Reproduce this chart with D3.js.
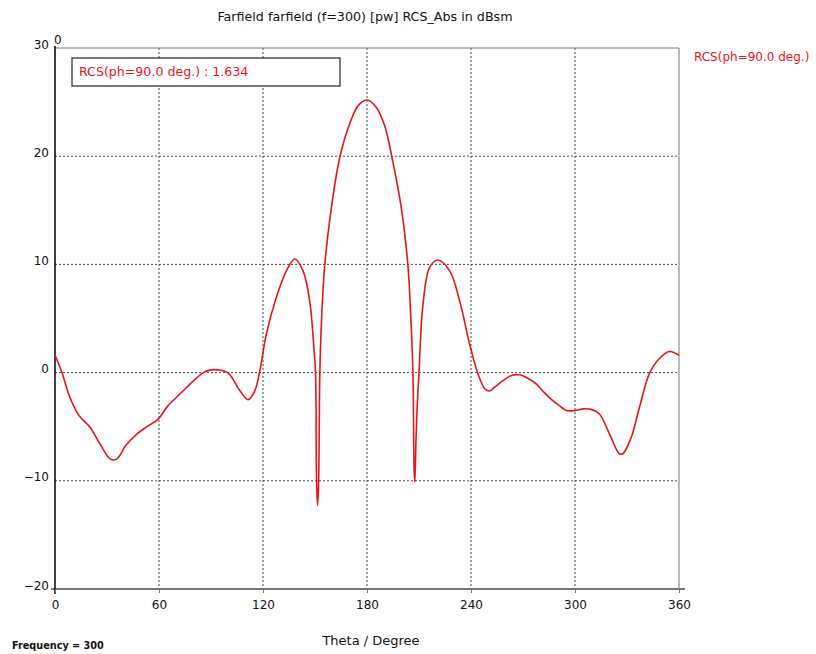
<!DOCTYPE html>
<html>
<head>
<meta charset="utf-8">
<script src="https://cdn.jsdelivr.net/npm/d3@7"></script>
<style>
  html, body { margin: 0; padding: 0; background: #fff; }
  svg { display: block; }
  text { font-family: "DejaVu Sans", Verdana, sans-serif; }
</style>
</head>
<body>
<svg id="chart" width="816" height="654"></svg>
<script>
// ---- data ----
const titleText = "Farfield farfield (f=300) [pw] RCS_Abs in dBsm";
const xLabel = "Theta / Degree";
const footerText = "Frequency = 300";
const seriesName = "RCS(ph=90.0 deg.)";
const markerText = "RCS(ph=90.0 deg.) : 1.634";
const xTicks = [0, 60, 120, 180, 240, 300, 360];
const yTicks = [-20, -10, 0, 10, 20, 30];
const theta = [
  0, 4, 8.6, 14, 20, 26, 32, 35.5, 41, 47, 53, 59.5, 65, 70, 76, 81, 85.5, 90, 94, 100,
  106.6, 111.4, 115.3, 118.2, 122, 127.8, 133.5, 138.3, 143.1, 146.9, 149.5, 150.3, 150.9, 151.5,
  152.1, 152.8, 153.8, 155.6, 159.5, 164.3, 170, 175, 180, 185, 190, 195, 200, 203.6, 205.3,
  206.5, 207.2, 207.6, 208.3, 209, 210, 212.3, 216.1, 220.9, 227.7, 233.4, 239.2, 244, 248,
  250.7, 254, 258.4, 263, 268, 272, 277.6, 282, 287.2, 291, 295, 300, 305, 309.3, 314, 320,
  325.6, 327.6, 332.4, 337.2, 342.9, 348.7, 354.5, 360
];
const rcs = [
  1.63, 0, -2.3, -4.0, -5.0, -6.6, -8.0, -8.0, -6.7, -5.7, -5.0, -4.3, -3.1, -2.3, -1.35, -0.6, 0.0, 0.25, 0.25, -0.05,
  -1.66, -2.5, -1.66, 0.2, 3.6, 7.0, 9.4, 10.5, 9.4, 6.65, 2.0, 0, -10, -12.3,
  -10, 0, 5, 9.9, 15.3, 19.9, 23, 24.7, 25.2, 24.6, 22.9, 19.4, 15.0, 9.9, 5.0,
  0, -9, -10.1, -6, -3, 0, 6.3, 9.7, 10.4, 9.4, 6.65, 2.65, -0.1, -1.5,
  -1.7, -1.3, -0.75, -0.3, -0.2, -0.45, -1.05, -1.8, -2.6, -3.05, -3.5, -3.5, -3.35, -3.4, -3.8, -5.7,
  -7.5, -7.5, -6.0, -3.2, -0.1, 1.3, 1.95, 1.6
];

// ---- layout ----
const svg = d3.select("#chart");
const pL = 55, pR = 679, pT = 48, pB = 589;
const x = d3.scaleLinear().domain([0, 360]).range([pL, pR]);
const y = d3.scaleLinear().domain([-20, 30]).range([pB, pT]);
const red = "#e8141c";

// grid
const grid = svg.append("g");
grid.selectAll("line.vx").data(xTicks.filter(t => t > 0 && t < 360)).join("line")
  .attr("x1", d => x(d)).attr("x2", d => x(d)).attr("y1", pT).attr("y2", pB)
  .attr("stroke", "#444").attr("stroke-width", 1).attr("stroke-dasharray", "2,2");
grid.selectAll("line.hy").data(yTicks.filter(t => t > -20 && t < 30)).join("line")
  .attr("x1", pL).attr("x2", pR).attr("y1", d => y(d)).attr("y2", d => y(d))
  .attr("stroke", "#444").attr("stroke-width", 1).attr("stroke-dasharray", "2,2");

// frame
svg.append("line").attr("x1", pL).attr("x2", pR).attr("y1", pT).attr("y2", pT)
  .attr("stroke", "#777").attr("stroke-width", 1);
svg.append("line").attr("x1", pR).attr("x2", pR).attr("y1", pT).attr("y2", pB)
  .attr("stroke", "#777").attr("stroke-width", 1);
svg.append("line").attr("x1", pL - 4).attr("x2", pR + 6).attr("y1", pB).attr("y2", pB)
  .attr("stroke", "#777").attr("stroke-width", 2);
svg.append("line").attr("x1", pL).attr("x2", pL).attr("y1", pT - 2).attr("y2", pB + 5)
  .attr("stroke", "#000").attr("stroke-width", 1.5);

// axes ticks
const xAxis = d3.axisBottom(x).tickValues(xTicks).tickSize(4).tickFormat(d3.format("d"));
const gx = svg.append("g").attr("transform", `translate(0,${pB})`).call(xAxis);
gx.select(".domain").remove();
gx.selectAll(".tick line").attr("stroke", "#777");
gx.selectAll(".tick text").attr("font-size", 12).attr("fill", "#111").attr("dy", "1.05em")
  .attr("font-family", "DejaVu Sans, sans-serif");

const yAxis = d3.axisLeft(y).tickValues(yTicks).tickSize(0).tickPadding(6).tickFormat(d3.format("d"));
const gy = svg.append("g").attr("transform", `translate(${pL},0)`).call(yAxis);
gy.select(".domain").remove();
gy.selectAll(".tick text").attr("font-size", 12).attr("fill", "#111").attr("dy", "0")
  .attr("font-family", "DejaVu Sans, sans-serif");

// top "0"
svg.append("text").attr("x", pL - 1).attr("y", 44).attr("font-size", 12).attr("fill", "#111").text("0");

// curve
const data = theta.map((t, i) => ({ t, v: rcs[i] }));
const line = d3.line().x(d => x(d.t)).y(d => y(d.v)).curve(d3.curveCatmullRom.alpha(0.5));
svg.append("path").datum(data).attr("d", line)
  .attr("fill", "none").attr("stroke", red).attr("stroke-width", 1.6);

// marker box
svg.append("rect").attr("x", 72).attr("y", 58).attr("width", 268).attr("height", 28)
  .attr("fill", "#fff").attr("stroke", "#222").attr("stroke-width", 1.2);
svg.append("text").attr("x", 79).attr("y", 76).attr("font-size", 12.6).attr("fill", red).text(markerText);

// right legend
svg.append("text").attr("x", 694).attr("y", 61).attr("font-size", 12).attr("fill", red).text(seriesName);

// title
svg.append("text").attr("x", 365).attr("y", 21).attr("text-anchor", "middle")
  .attr("font-size", 12.7).attr("fill", "#111").text(titleText);

// x label
svg.append("text").attr("x", 371).attr("y", 645).attr("text-anchor", "middle")
  .attr("font-size", 13).attr("fill", "#111").text(xLabel);

// footer
svg.append("text").attr("x", 12).attr("y", 649).attr("font-size", 9.7).attr("font-weight", "bold")
  .attr("fill", "#111").text(footerText);
</script>
</body>
</html>
